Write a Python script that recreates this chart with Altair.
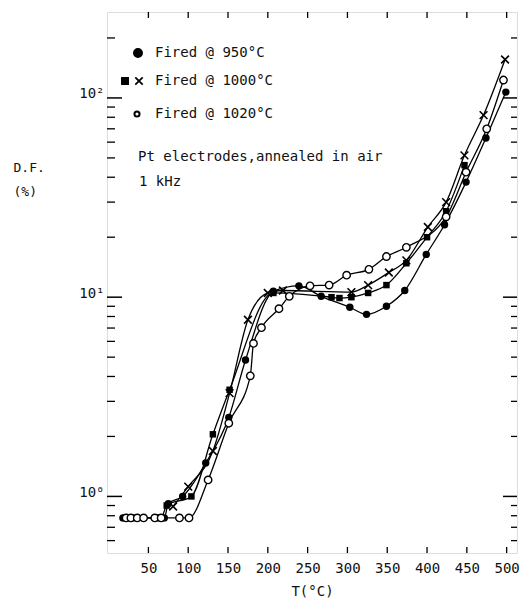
import altair as alt
import pandas as pd

FONT = "DejaVu Sans Mono"

# ---- data ----
T950 = [18, 24, 30, 62, 70, 75, 93, 122, 151, 172, 207, 239, 267, 303, 324, 349, 372, 399, 422, 449, 474, 499]
DF950 = [0.78, 0.78, 0.78, 0.78, 0.78, 0.92, 1.0, 1.47, 2.49, 4.84, 10.7, 11.4, 10.1, 8.9, 8.2, 9.0, 10.8, 16.4, 23.1, 37.8, 63, 107]

T1000SQ = [21, 27, 35, 66, 73, 104, 131, 152, 207, 280, 290, 305, 326, 349, 374, 400, 424, 447]
DF1000SQ = [0.78, 0.78, 0.78, 0.78, 0.9, 1.0, 2.05, 3.43, 10.5, 10.0, 9.9, 10.0, 10.5, 11.5, 14.8, 20.0, 27.0, 46.0]

T1000X = [81, 100, 131, 152, 175, 200, 219, 305, 326, 352, 374, 401, 424, 447, 471, 498]
DF1000X = [0.89, 1.12, 1.69, 3.3, 7.7, 10.5, 10.8, 10.6, 11.5, 13.3, 15.3, 22.5, 30.0, 51.5, 82.0, 156.0]

T1020 = [22, 28, 36, 44, 58, 66, 89, 101, 125, 151, 178, 182, 192, 214, 227, 253, 277, 299, 327, 349, 374, 424, 449, 475, 496]
DF1020 = [0.78, 0.78, 0.78, 0.78, 0.78, 0.78, 0.78, 0.78, 1.21, 2.33, 4.03, 5.86, 7.03, 8.75, 10.1, 11.4, 11.5, 12.9, 13.8, 16.0, 17.8, 25.3, 42.4, 70.0, 123.0]

X_TICKS = [50, 100, 150, 200, 250, 300, 350, 400, 450, 500]
Y_MAJOR = [1, 10, 100]
Y_MINOR = [0.6, 0.7, 0.8, 0.9, 2, 3, 4, 5, 6, 7, 8, 9, 20, 30, 40, 50, 60, 70, 80, 90, 200]

LEGEND = ["Fired @ 950°C", "Fired @ 1000°C", "Fired @ 1020°C"]
NOTE1 = "Pt electrodes,annealed in air"
NOTE2 = "1 kHz"

rows = []
for name, ts, vs in [("950", T950, DF950), ("1000sq", T1000SQ, DF1000SQ),
                     ("1000x", T1000X, DF1000X), ("1020", T1020, DF1020)]:
    rows += [{"series": name, "T": t, "DF": v} for t, v in zip(ts, vs)]
df = pd.DataFrame(rows)

W, H = 410, 541
xs = alt.Scale(domain=[-2, 513], nice=False, zero=False)
ys = alt.Scale(type="log", domain=[0.52, 270], nice=False)

xaxis = alt.Axis(values=X_TICKS, ticks=False, domain=False, grid=False,
                 labelFont=FONT, labelFontSize=14, labelColor="#111", labelPadding=8,
                 title="T(°C)", titleFont=FONT, titleFontSize=14, titleFontWeight="normal",
                 titleColor="#111", titlePadding=9)
yaxis = alt.Axis(values=Y_MAJOR, ticks=False, domain=False, grid=False,
                 labelExpr="datum.value == 1 ? '10⁰' : datum.value == 10 ? '10¹' : '10²'",
                 labelFont=FONT, labelFontSize=14, labelColor="#111", labelPadding=3,
                 labelBaseline="alphabetic",
                 title=["D.F.", "(%)"], titleAngle=0, titleAlign="left", titleBaseline="middle",
                 titleX=-94, titleY=155, titleFont=FONT, titleFontSize=13,
                 titleFontWeight="normal", titleColor="#111", titleLineHeight=24)

X = alt.X("T:Q", scale=xs, axis=xaxis)
Y = alt.Y("DF:Q", scale=ys, axis=yaxis)

base = alt.Chart(df)
lines = base.mark_line(color="black", strokeWidth=1.3, interpolate="monotone", clip=True).encode(
    x=X, y=Y, detail="series:N")

p950 = base.transform_filter(alt.datum.series == "950").mark_point(
    shape="circle", filled=True, color="black", size=55, opacity=1).encode(x=X, y=Y)
psq = base.transform_filter(alt.datum.series == "1000sq").mark_point(
    shape="square", filled=True, color="black", size=42, opacity=1).encode(x=X, y=Y)
XSHAPE = "M-1,-1L1,1M-1,1L1,-1"
px = base.transform_filter(alt.datum.series == "1000x").mark_point(
    shape=XSHAPE, filled=False, color="black", size=60, strokeWidth=1.6, opacity=1).encode(x=X, y=Y)
p1020 = base.transform_filter(alt.datum.series == "1020").mark_point(
    shape="circle", filled=False, fill="white", fillOpacity=1, stroke="black",
    size=55, strokeWidth=1.4, opacity=1).encode(x=X, y=Y)

# inward tick marks on all four sides (same fields/axes as the data so axes merge)
ymaj = pd.DataFrame({"DF": Y_MAJOR})
ymin = pd.DataFrame({"DF": Y_MINOR})
xt = pd.DataFrame({"T": X_TICKS})
tk = []
tk.append(alt.Chart(ymaj).mark_rule(color="black", strokeWidth=1.5).encode(y=Y, x=alt.value(0), x2=alt.value(15)))
tk.append(alt.Chart(ymin).mark_rule(color="black", strokeWidth=1.3).encode(y=Y, x=alt.value(0), x2=alt.value(8)))
tk.append(alt.Chart(ymaj).mark_rule(color="black", strokeWidth=1.5).encode(y=Y, x=alt.value(W), x2=alt.value(W - 14)))
tk.append(alt.Chart(ymin).mark_rule(color="black", strokeWidth=1.3).encode(y=Y, x=alt.value(W), x2=alt.value(W - 6)))
tk.append(alt.Chart(xt).mark_rule(color="black", strokeWidth=1.3).encode(x=X, y=alt.value(0), y2=alt.value(6)))
tk.append(alt.Chart(xt).mark_rule(color="black", strokeWidth=1.3).encode(x=X, y=alt.value(H), y2=alt.value(H - 6)))


def txt(s, x, y, size=14):
    return alt.Chart(pd.DataFrame({"t": [s]})).mark_text(
        align="left", baseline="middle", font=FONT, fontSize=size, color="#111").encode(
        text="t:N", x=alt.value(x), y=alt.value(y))


def sym(shape, x, y, filled, size=50, sw=1.6):
    return alt.Chart(pd.DataFrame({"t": [0]})).mark_point(
        shape=shape, filled=filled, fill="white" if not filled else "black",
        stroke="black", size=size, strokeWidth=sw, opacity=1).encode(
        x=alt.value(x), y=alt.value(y))


ann = [
    sym("circle", 31, 41, True, 70), txt(LEGEND[0], 48, 41),
    sym("square", 18, 69, True, 40), sym(XSHAPE, 32, 69, False, 55, 1.8), txt(LEGEND[1], 48, 69),
    sym("circle", 30, 102, False, 26, 2), txt(LEGEND[2], 48, 102),
    txt(NOTE1, 31, 145), txt(NOTE2, 32, 170),
]

chart = alt.layer(lines, *tk, p950, psq, px, p1020, *ann).properties(
    width=W, height=H,
    padding={"left": 107, "top": 12, "right": 8, "bottom": 55},
    autosize=alt.AutoSizeParams(type="none"),
).configure_view(stroke="black", strokeWidth=1.6).configure(background="white")

chart.save("out.html", embed_options={"renderer": "svg", "actions": False})
